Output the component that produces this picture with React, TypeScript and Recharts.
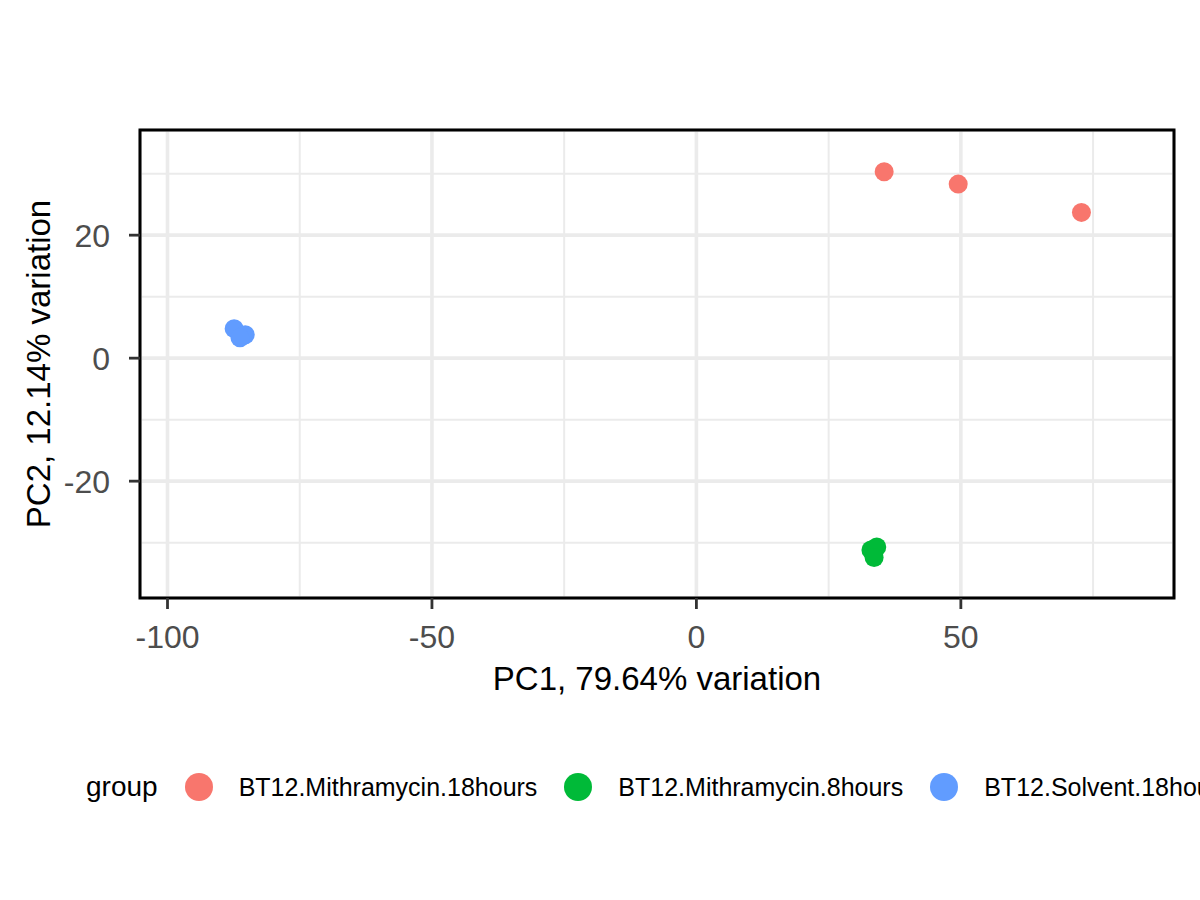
import React from 'react';
import { CartesianGrid, ReferenceArea, Scatter, ScatterChart, XAxis, YAxis } from 'recharts';

const GROUPS = ['BT12.Mithramycin.18hours', 'BT12.Mithramycin.8hours', 'BT12.Solvent.18hours'];
const COLORS = ['#F8766D', '#00BA38', '#619CFF'];

// PC1 / PC2 scores per group
const mith18PC1 = [35.5, 49.5, 72.8];
const mith18PC2 = [30.3, 28.3, 23.7];
const mith8PC1 = [33.0, 34.1, 33.6];
const mith8PC2 = [-31.2, -30.7, -32.4];
const solv18PC1 = [-87.4, -85.3, -86.3];
const solv18PC2 = [4.8, 3.8, 3.3];

const X_TICKS = [-100, -50, 0, 50];
const X_MINOR = [-75, -25, 25, 75];
const Y_TICKS = [-20, 0, 20];
const Y_MINOR = [-30, -10, 10, 30];
const X_DOMAIN: [number, number] = [-105.2, 90.3];
const Y_DOMAIN: [number, number] = [-39, 37.1];

const FONT = '"Liberation Sans", Arial, Helvetica, sans-serif';

const zip = (xs: number[], ys: number[]) => xs.map((x, i) => ({ x, y: ys[i] }));
const series = [zip(mith18PC1, mith18PC2), zip(mith8PC1, mith8PC2), zip(solv18PC1, solv18PC2)];

const dot = (color: string) => (props: any) => (
  <circle cx={props.cx} cy={props.cy} r={9.5} fill={color} />
);

const minorH = ({ yAxis, offset }: any) =>
  Y_MINOR.map((v) =>
    yAxis && typeof yAxis.scale === 'function'
      ? yAxis.scale(v)
      : offset.top + (offset.height * (Y_DOMAIN[1] - v)) / (Y_DOMAIN[1] - Y_DOMAIN[0]),
  );

const minorV = ({ xAxis, offset }: any) =>
  X_MINOR.map((v) =>
    xAxis && typeof xAxis.scale === 'function'
      ? xAxis.scale(v)
      : offset.left + (offset.width * (v - X_DOMAIN[0])) / (X_DOMAIN[1] - X_DOMAIN[0]),
  );

export default function App() {
  const tick = { fill: '#4D4D4D', fontSize: 32, fontFamily: FONT };
  const tickLine = { stroke: '#333333', strokeWidth: 2.8 };
  return (
    <div
      style={{
        position: 'absolute',
        left: 0,
        top: 0,
        width: 1200,
        height: 900,
        overflow: 'hidden',
        background: '#fff',
        fontFamily: FONT,
      }}
    >
      <ScatterChart width={1200} height={900} margin={{ top: 130, right: 26, bottom: 202, left: 0 }}>
        <CartesianGrid
          stroke="#EBEBEB"
          strokeWidth={2}
          horizontalCoordinatesGenerator={minorH}
          verticalCoordinatesGenerator={minorV}
        />
        <CartesianGrid stroke="#EBEBEB" strokeWidth={3.6} />
        <XAxis
          type="number"
          dataKey="x"
          domain={X_DOMAIN}
          ticks={X_TICKS}
          allowDataOverflow
          axisLine={false}
          tickLine={tickLine}
          tickSize={11}
          tickMargin={16}
          tick={tick}
          height={100}
          label={{
            value: 'PC1, 79.64% variation',
            position: 'insideBottom',
            offset: 8,
            style: { fill: '#000', fontSize: 33, fontFamily: FONT },
          }}
        />
        <YAxis
          type="number"
          dataKey="y"
          domain={Y_DOMAIN}
          ticks={Y_TICKS}
          allowDataOverflow
          axisLine={false}
          tickLine={tickLine}
          tickSize={11}
          tickMargin={19}
          tick={tick}
          width={140}
          label={{
            value: 'PC2, 12.14% variation',
            angle: -90,
            position: 'insideLeft',
            offset: 38,
            style: { fill: '#000', fontSize: 33, fontFamily: FONT, textAnchor: 'middle' },
          }}
        />
        {series.map((d, i) => (
          <Scatter
            key={GROUPS[i]}
            name={GROUPS[i]}
            data={d}
            fill={COLORS[i]}
            shape={dot(COLORS[i])}
            isAnimationActive={false}
          />
        ))}
        <ReferenceArea
          x1={X_DOMAIN[0]}
          x2={X_DOMAIN[1]}
          y1={Y_DOMAIN[0]}
          y2={Y_DOMAIN[1]}
          fill="none"
          fillOpacity={0}
          stroke="#000"
          strokeWidth={3}
        />
      </ScatterChart>
      <div
        style={{
          position: 'absolute',
          left: 86,
          top: 787,
          transform: 'translateY(-50%)',
          display: 'flex',
          alignItems: 'center',
          whiteSpace: 'nowrap',
        }}
      >
        <span style={{ fontSize: 28, color: '#000', marginRight: 27 }}>group</span>
        {GROUPS.map((g, i) => (
          <React.Fragment key={g}>
            <span
              style={{
                display: 'inline-block',
                width: 28,
                height: 28,
                borderRadius: '50%',
                background: COLORS[i],
                marginRight: 26,
              }}
            />
            <span style={{ fontSize: 25, color: '#000', marginRight: 27 }}>{g}</span>
          </React.Fragment>
        ))}
      </div>
    </div>
  );
}
